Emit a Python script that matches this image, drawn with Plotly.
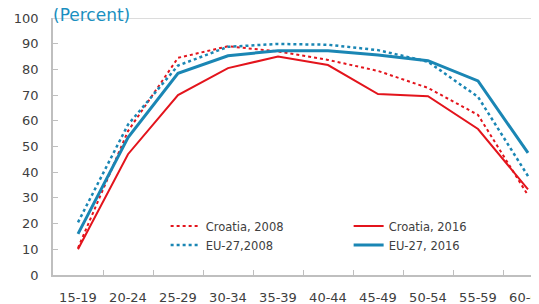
import plotly.graph_objects as go

age_groups = ["15-19", "20-24", "25-29", "30-34", "35-39", "40-44", "45-49", "50-54", "55-59", "60-64"]
croatia_2008 = [10.5, 56, 84.5, 89, 87, 83.7, 79.4, 72.8, 62.3, 31]
croatia_2016 = [10, 47, 70, 80.5, 85, 81.7, 70.4, 69.6, 56.8, 33.3]
eu27_2008 = [20.5, 58.5, 81.5, 88.8, 89.9, 89.6, 87.5, 83, 69.3, 38.5]
eu27_2016 = [16, 53.5, 78.5, 85.3, 87.3, 87.3, 85.6, 83.4, 75.5, 47.5]

RED = "#e3141c"
BLUE = "#1a86b4"
FONT = "DejaVu Sans"

fig = go.Figure()
fig.add_trace(go.Scatter(x=age_groups, y=croatia_2008, name="Croatia, 2008", mode="lines",
                         line=dict(color=RED, width=2, dash="dot")))
fig.add_trace(go.Scatter(x=age_groups, y=croatia_2016, name="Croatia, 2016", mode="lines",
                         line=dict(color=RED, width=2)))
fig.add_trace(go.Scatter(x=age_groups, y=eu27_2008, name="EU-27,2008", mode="lines",
                         line=dict(color=BLUE, width=2.5, dash="dot")))
fig.add_trace(go.Scatter(x=age_groups, y=eu27_2016, name="EU-27, 2016", mode="lines",
                         line=dict(color=BLUE, width=3)))

fig.update_layout(
    width=539, height=304,
    margin=dict(l=45, r=0, t=10, b=37, autoexpand=False),
    plot_bgcolor="white", paper_bgcolor="white",
    font=dict(family=FONT, color="#404040", size=13),
    showlegend=True,
    legend=dict(orientation="h", x=0.228, xanchor="left", y=0.247, yanchor="top",
                font=dict(size=11.5, color="#404040"), entrywidth=138,
                bgcolor="rgba(0,0,0,0)", tracegroupgap=0),
    xaxis=dict(type="category", range=[-0.5, 9.38], tickson="boundaries",
               ticks="inside", ticklen=5, tickcolor="#bfbfbf", tickangle=0,
               automargin=False,
               showline=True, linecolor="#bfbfbf", linewidth=1.5,
               showgrid=False, zeroline=False, tickfont=dict(size=13),
               ticklabelstandoff=10),
    yaxis=dict(range=[0, 100], dtick=10, ticks="inside", ticklen=5, tickcolor="#bfbfbf",
               automargin=False,
               showline=True, linecolor="#bfbfbf", linewidth=1.5,
               showgrid=False, zeroline=False, tickfont=dict(size=13),
               ticklabelstandoff=10),
    annotations=[dict(text="(Percent)", xref="paper", yref="paper", x=0, y=1.0,
                      xanchor="left", yanchor="middle", showarrow=False,
                      font=dict(size=17, color="#1a8fc0"), xshift=-2, yshift=3)],
    shapes=[dict(type="line", xref="paper", yref="y", x0=0, x1=1, y0=100, y1=100,
                 line=dict(color="#d0d0d0", width=1.5))],
)

fig.write_html("out.html")
